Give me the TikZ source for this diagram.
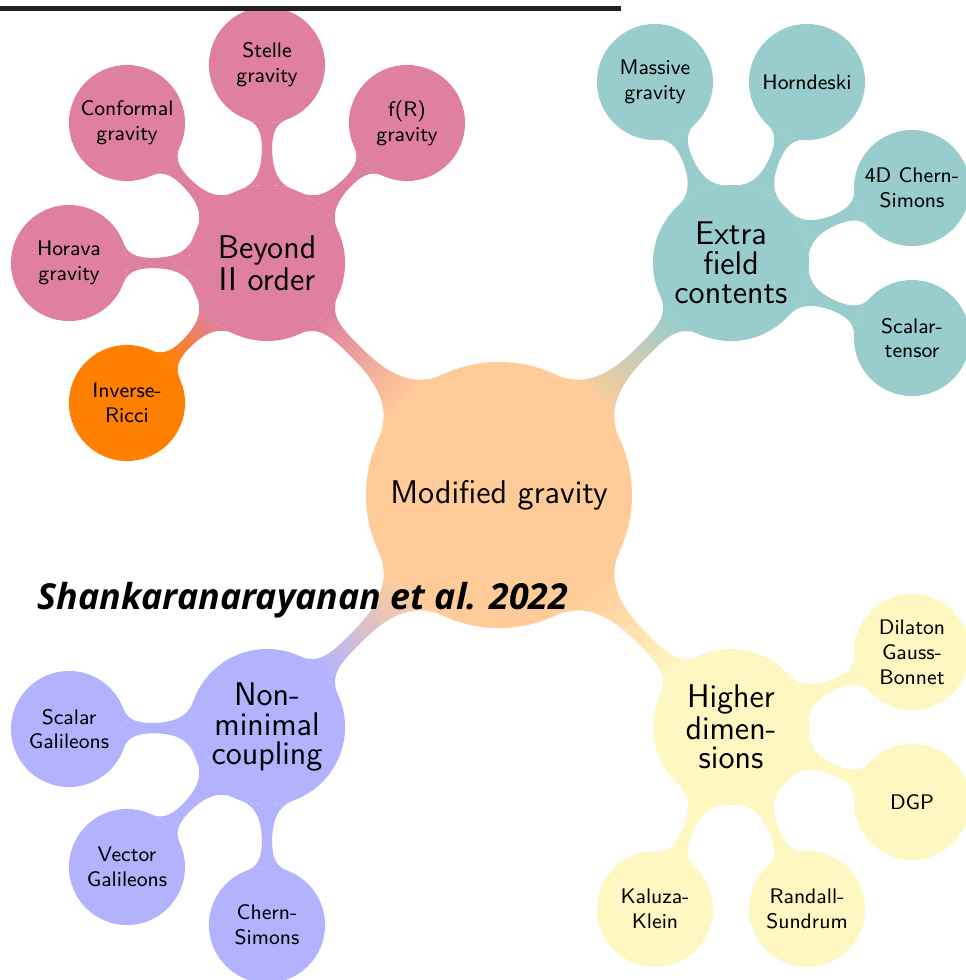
\documentclass[tikz,border=0pt]{standalone}
\usepackage{fontspec}
\newfontfamily\notefont{Open Sans}
\usetikzlibrary{mindmap,shadings,backgrounds}
\definecolor{cream}{RGB}{255,247,194}

\begin{document}
\begin{tikzpicture}[x=0.015cm, y=-0.015cm,
  bubble/.style={circle, inner sep=0pt, align=center, text=black, fill=#1, draw=#1, line width=0.6pt},
  rootbubble/.style={bubble=#1, minimum size=3.97cm, font=\sffamily\fontsize{14}{14}\selectfont},
  topicbubble/.style={bubble=#1, minimum size=2.32cm, font=\sffamily\fontsize{14}{12.5}\selectfont},
  leafbubble/.style={bubble=#1, minimum size=1.72cm, font=\sffamily\fontsize{9}{10.6}\selectfont}]
\useasboundingbox (0,0) rectangle (966,980);

\node[rootbubble=orange!40] (root) at (499,495) {Modified gravity};

\node[topicbubble=purple!50] (beyond) at (267,263) {Beyond\\II order};
\node[topicbubble=teal!40] (extra) at (731,263) {Extra\\field\\contents};
\node[topicbubble=blue!30] (nonmin) at (267,727) {Non-\\minimal\\coupling};
\node[topicbubble=cream] (higher) at (731,727) {Higher\\dimen-\\sions};

\begin{scope}[every node/.append style={leafbubble=purple!50}]
  \node (horava) at (69,263) {Horava\\gravity};
  \node (conformal) at (127,123) {Conformal\\gravity};
  \node (stelle) at (267,65) {Stelle\\gravity};
  \node (fR) at (407,123) {f(R)\\gravity};
  \node[leafbubble=orange] (inverse) at (127,403) {Inverse-\\Ricci};
\end{scope}

\begin{scope}[every node/.append style={leafbubble=teal!40}]
  \node (massive) at (655,82) {Massive\\gravity};
  \node (horndeski) at (807,82) {Horndeski};
  \node (cs4d) at (912,188) {4D Chern-\\Simons};
  \node (scalartensor) at (912,338) {Scalar-\\tensor};
\end{scope}

\begin{scope}[every node/.append style={leafbubble=cream}]
  \node (dilaton) at (912,652) {Dilaton\\Gauss-\\Bonnet};
  \node (dgp) at (912,802) {DGP};
  \node (randall) at (807,909) {Randall-\\Sundrum};
  \node (kaluza) at (655,909) {Kaluza-\\Klein};
\end{scope}

\begin{scope}[every node/.append style={leafbubble=blue!30}]
  \node (scalargal) at (69,729) {Scalar\\Galileons};
  \node (vectorgal) at (127,867) {Vector\\Galileons};
  \node (chernsimons) at (267,925) {Chern-\\Simons};
\end{scope}

% bars behind the bubbles
\begin{scope}[on background layer]
  \path (root) to[circle connection bar switch color=from (orange!40) to (purple!50)] (beyond);
  \path (root) to[circle connection bar switch color=from (orange!40) to (teal!40)] (extra);
  \path (root) to[circle connection bar switch color=from (orange!40) to (blue!30)] (nonmin);
  \path (root) to[circle connection bar switch color=from (orange!40) to (cream)] (higher);
  \path (beyond) to[circle connection bar switch color=from (purple!50) to (orange)] (inverse);
  \path[concept color=purple!50] (beyond) to[circle connection bar] (horava)
    (beyond) to[circle connection bar] (conformal)
    (beyond) to[circle connection bar] (stelle)
    (beyond) to[circle connection bar] (fR);
  \path[concept color=teal!40] (extra) to[circle connection bar] (massive)
    (extra) to[circle connection bar] (horndeski)
    (extra) to[circle connection bar] (cs4d)
    (extra) to[circle connection bar] (scalartensor);
  \path[concept color=cream] (higher) to[circle connection bar] (dilaton)
    (higher) to[circle connection bar] (dgp)
    (higher) to[circle connection bar] (randall)
    (higher) to[circle connection bar] (kaluza);
  \path[concept color=blue!30] (nonmin) to[circle connection bar] (scalargal)
    (nonmin) to[circle connection bar] (vectorgal)
    (nonmin) to[circle connection bar] (chernsimons);
\end{scope}

\coordinate (rulestart) at (0,8.5);
\coordinate (ruleend) at (621,8.5);
\draw[line width=2.1pt, black!87] (rulestart) -- (ruleend);

\node[anchor=base west, inner sep=0pt, font=\notefont\bfseries\itshape\fontsize{15.3}{18}\selectfont] (cite) at (37,609) {Shankaranarayanan et al. 2022};
\end{tikzpicture}
\end{document}
